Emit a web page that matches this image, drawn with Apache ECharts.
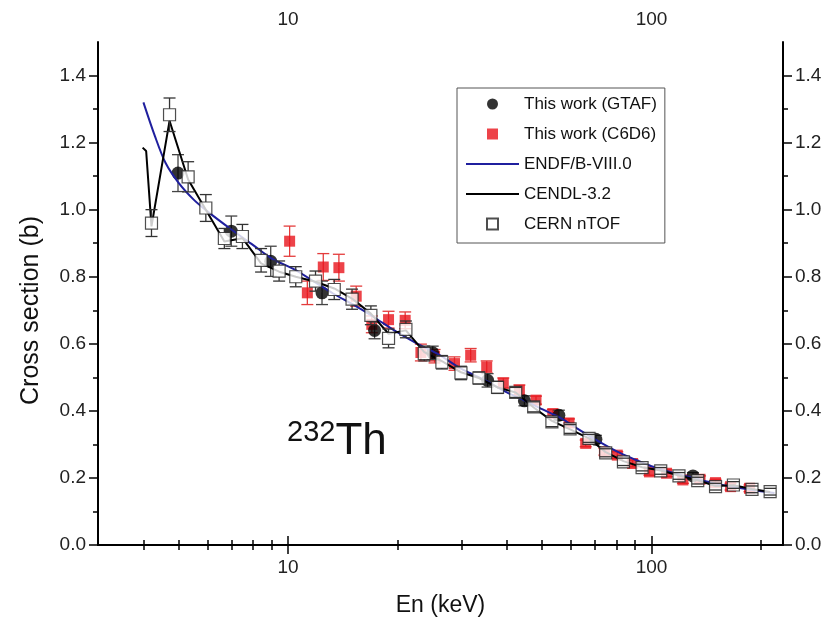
<!DOCTYPE html>
<html>
<head>
<meta charset="utf-8">
<script src="https://cdn.jsdelivr.net/npm/echarts@6/dist/echarts.min.js"></script>
<style>
html, body { margin: 0; padding: 0; background: #fff; }
#main { width: 825px; height: 628px; }
</style>
</head>
<body>
<div id="main"></div>
<script>
var myChart = echarts.init(document.getElementById('main'));

// This work (GTAF)
var gtafE = [4.98, 6.98, 8.96, 12.4, 17.3, 25.0, 35.4, 44.7, 55.6, 70.3, 130];
var gtafXS = [1.109, 0.936, 0.846, 0.752, 0.640, 0.573, 0.491, 0.430, 0.387, 0.315, 0.206];
var gtafErr = [0.055, 0.045, 0.045, 0.035, 0.025, 0.02, 0.02, 0.015, 0.015, 0.012, 0.01];

// This work (C6D6)
var c6d6E = [10.1, 11.3, 12.5, 13.8, 15.4, 17.0, 18.9, 21.0, 23.2, 25.3, 28.7, 31.8, 35.2, 39.1, 43.3, 48.1,
    53.5, 59.3, 65.9, 74.2, 80.5, 88.7, 98.7, 110, 122, 136, 150, 165, 186];
var c6d6XS = [0.906, 0.752, 0.829, 0.827, 0.742, 0.658, 0.672, 0.670, 0.574, 0.563, 0.541, 0.566, 0.531, 0.483, 0.462, 0.432,
    0.392, 0.364, 0.303, 0.278, 0.268, 0.243, 0.218, 0.214, 0.194, 0.196, 0.186, 0.174, 0.169];
var c6d6Err = [0.045, 0.035, 0.04, 0.04, 0.03, 0.025, 0.025, 0.025, 0.025, 0.02, 0.02, 0.02, 0.018, 0.015, 0.015, 0.012,
    0.012, 0.012, 0.01, 0.01, 0.01, 0.01, 0.01, 0.01, 0.01, 0.01, 0.01, 0.01, 0.01];

// ENDF/B-VIII.0
var endfE = [4.0, 4.3, 4.6, 5.0, 5.5, 6.0, 7.0, 8.0, 9.0, 10.5, 12.0, 13.3, 15.2, 17.2, 19.6, 22.7, 25.8, 30, 35, 40,
    45, 50, 56, 63, 70, 80, 90, 100, 115, 130, 150, 175, 200, 218];
var endfXS = [1.32, 1.22, 1.14, 1.08, 1.03, 0.995, 0.94, 0.895, 0.855, 0.82, 0.78, 0.75, 0.715, 0.68, 0.64, 0.60, 0.57, 0.525, 0.49, 0.455,
    0.43, 0.405, 0.38, 0.345, 0.315, 0.28, 0.255, 0.235, 0.215, 0.2, 0.183, 0.17, 0.16, 0.155];

// CENDL-3.2
var cendlE = [3.98, 4.07, 4.21, 4.72, 5.31, 5.94, 6.68, 7.49, 8.43, 9.45, 10.5, 11.9, 13.4, 15.0, 16.9, 18.9, 21.1, 23.7, 26.5,
    29.9, 33.5, 37.7, 42.3, 47.4, 53.2, 59.7, 67.3, 74.8, 83.7, 94.2, 106, 119, 134, 150, 168, 189, 212];
var cendlXS = [1.185, 1.175, 0.95, 1.265, 1.09, 1.0, 0.905, 0.915, 0.84, 0.815, 0.80, 0.785, 0.765, 0.735, 0.69, 0.63, 0.64, 0.575, 0.548,
    0.515, 0.498, 0.47, 0.455, 0.41, 0.37, 0.345, 0.318, 0.277, 0.25, 0.232, 0.222, 0.207, 0.193, 0.176, 0.178, 0.167, 0.158];

// CERN nTOF
var ntofE = [4.21, 4.72, 5.31, 5.94, 6.68, 7.49, 8.43, 9.45, 10.5, 11.9, 13.4, 15.0, 16.9, 18.9, 21.1, 23.7, 26.5, 29.9,
    33.5, 37.7, 42.3, 47.4, 53.2, 59.7, 67.3, 74.8, 83.7, 94.2, 106, 119, 134, 150, 168, 189, 212];
var ntofXS = [0.960, 1.283, 1.098, 1.005, 0.914, 0.920, 0.849, 0.817, 0.800, 0.787, 0.762, 0.733, 0.685, 0.616, 0.643, 0.571, 0.545, 0.513,
    0.498, 0.470, 0.455, 0.412, 0.367, 0.346, 0.318, 0.275, 0.248, 0.231, 0.221, 0.206, 0.192, 0.174, 0.179, 0.166, 0.159];
var ntofErr = [0.04, 0.05, 0.045, 0.04, 0.03, 0.036, 0.035, 0.03, 0.03, 0.03, 0.03, 0.03, 0.028, 0.028, 0.025, 0.022, 0.02, 0.02,
    0.018, 0.018, 0.015, 0.015, 0.014, 0.013, 0.012, 0.012, 0.011, 0.01, 0.01, 0.01, 0.01, 0.01, 0.01, 0.01, 0.01];

// ticks
var xMajor = [10, 100];
var xMinor = [4, 5, 6, 7, 8, 9, 20, 30, 40, 50, 60, 70, 80, 90, 200];
var yMajor = [0, 0.2, 0.4, 0.6, 0.8, 1.0, 1.2, 1.4];
var yMinor = [0.1, 0.3, 0.5, 0.7, 0.9, 1.1, 1.3];

var FONT = '"Liberation Sans", Arial, sans-serif';
var SQUARE = 'path://M0,0H10V10H0Z';

function pairs(xs, ys, es) {
    var res = [];
    for (var i = 0; i < xs.length; i++) {
        res.push(es ? [xs[i], ys[i], es[i]] : [xs[i], ys[i]]);
    }
    return res;
}

// error bars; the vertical stroke stops at the symbol edge (hole)
function errorBar(color, hole) {
    return function (params, api) {
        var x = api.value(0), y = api.value(1), e = api.value(2);
        var c = api.coord([x, y]);
        var hi = api.coord([x, y + e]);
        var lo = api.coord([x, y - e]);
        var cap = 6;
        var st = { stroke: color, lineWidth: 1.3 };
        var ch = [
            { type: 'line', shape: { x1: c[0] - cap, y1: hi[1], x2: c[0] + cap, y2: hi[1] }, style: st },
            { type: 'line', shape: { x1: c[0] - cap, y1: lo[1], x2: c[0] + cap, y2: lo[1] }, style: st }
        ];
        if (hi[1] < c[1] - hole) {
            ch.push({ type: 'line', shape: { x1: c[0], y1: hi[1], x2: c[0], y2: c[1] - hole }, style: st });
        }
        if (lo[1] > c[1] + hole) {
            ch.push({ type: 'line', shape: { x1: c[0], y1: c[1] + hole, x2: c[0], y2: lo[1] }, style: st });
        }
        return { type: 'group', children: ch };
    };
}

var axisLine = { show: true, lineStyle: { color: '#000', width: 2 } };
var labelStyle = { fontSize: 19, color: '#222', fontFamily: FONT };

function xAx(pos, major) {
    return {
        type: 'log', logBase: 10, min: 3, max: 230, position: pos,
        axisLine: major ? axisLine : { show: false },
        axisTick: { show: true, length: major ? 9 : 5, customValues: major ? xMajor : xMinor,
            lineStyle: { color: '#000', width: 1.5 } },
        axisLabel: major ? Object.assign({ customValues: xMajor, margin: 13 }, labelStyle) : { show: false },
        splitLine: { show: false }
    };
}
function yAx(pos, major) {
    return {
        type: 'value', min: 0, max: 1.5, position: pos,
        axisLine: major ? axisLine : { show: false },
        axisTick: { show: true, length: major ? 9 : 5, customValues: major ? yMajor : yMinor,
            lineStyle: { color: '#000', width: 1.5 } },
        axisLabel: major ? Object.assign({ customValues: yMajor, margin: 12,
            formatter: function (v) { return v.toFixed(1); } }, labelStyle) : { show: false },
        splitLine: { show: false }
    };
}

var xAxes = [xAx('bottom', true), xAx('bottom', false), xAx('top', true), xAx('top', false)];
xAxes[0].name = 'En (keV)';
xAxes[0].nameLocation = 'middle';
xAxes[0].nameGap = 49;
xAxes[0].nameTextStyle = { fontSize: 23, color: '#111', fontFamily: FONT };

var yAxes = [yAx('left', true), yAx('left', false), yAx('right', true), yAx('right', false)];
yAxes[0].name = 'Cross section (b)';
yAxes[0].nameLocation = 'middle';
yAxes[0].nameGap = 54;
yAxes[0].nameTextStyle = { fontSize: 25, color: '#111', fontFamily: FONT, padding: [0, 34, 0, 0] };

option = {
    backgroundColor: '#fff',
    animation: false,
    grid: { left: 98, right: 42, top: 42, bottom: 83 },
    xAxis: xAxes,
    yAxis: yAxes,
    legend: {
        left: 457, top: 88, orient: 'vertical',
        data: [
            { name: 'This work (GTAF)', icon: 'circle' },
            { name: 'This work (C6D6)', icon: SQUARE },
            { name: 'ENDF/B-VIII.0', itemStyle: { opacity: 0 } },
            { name: 'CENDL-3.2', itemStyle: { opacity: 0 } },
            { name: 'CERN nTOF', icon: SQUARE }
        ],
        itemWidth: 53, itemHeight: 11, itemGap: 0,
        symbolKeepAspect: true,
        padding: [1, 8, 4, 8],
        borderColor: '#555', borderWidth: 1,
        textStyle: { fontSize: 17, color: '#111', fontFamily: FONT, lineHeight: 30 }
    },
    graphic: [{
        type: 'text', left: 287, top: 418, z: 10,
        style: {
            text: '{s|232}{b|Th}',
            rich: {
                s: { fontSize: 29, fontFamily: FONT, fill: '#111', verticalAlign: 'top', lineHeight: 24 },
                b: { fontSize: 44, fontFamily: FONT, fill: '#111', verticalAlign: 'bottom', lineHeight: 46 }
            }
        }
    }],
    series: [
        {
            name: 'c6d6 err', type: 'custom', renderItem: errorBar('#e43c3c', 0),
            data: pairs(c6d6E, c6d6XS, c6d6Err), encode: { x: 0, y: 1 }, z: 1
        },
        {
            name: 'This work (C6D6)', type: 'scatter', symbol: 'rect', symbolSize: 11,
            data: pairs(c6d6E, c6d6XS), itemStyle: { color: '#e8141b' }, z: 2
        },
        {
            name: 'gtaf err', type: 'custom', renderItem: errorBar('#444', 0),
            data: pairs(gtafE, gtafXS, gtafErr), encode: { x: 0, y: 1 }, z: 3
        },
        {
            name: 'This work (GTAF)', type: 'scatter', symbol: 'circle', symbolSize: 13,
            data: pairs(gtafE, gtafXS), itemStyle: { color: '#000' }, z: 3
        },
        {
            name: 'ENDF/B-VIII.0', type: 'line', symbol: 'none', smooth: 0.3,
            data: pairs(endfE, endfXS), lineStyle: { color: '#1f1f9e', width: 2 }, itemStyle: { color: '#1f1f9e' }, z: 4
        },
        {
            name: 'CENDL-3.2', type: 'line', symbol: 'none',
            data: pairs(cendlE, cendlXS), lineStyle: { color: '#000', width: 2 }, itemStyle: { color: '#000' }, z: 4
        },
        {
            name: 'CERN nTOF', type: 'scatter', symbol: 'rect', symbolSize: 12,
            data: pairs(ntofE, ntofXS), itemStyle: { color: '#fff', borderColor: '#222', borderWidth: 1.2 }, z: 5
        },
        {
            name: 'ntof err', type: 'custom', renderItem: errorBar('#333', 6),
            data: pairs(ntofE, ntofXS, ntofErr), encode: { x: 0, y: 1 }, z: 6
        }
    ]
};

myChart.setOption(option);
</script>
</body>
</html>
